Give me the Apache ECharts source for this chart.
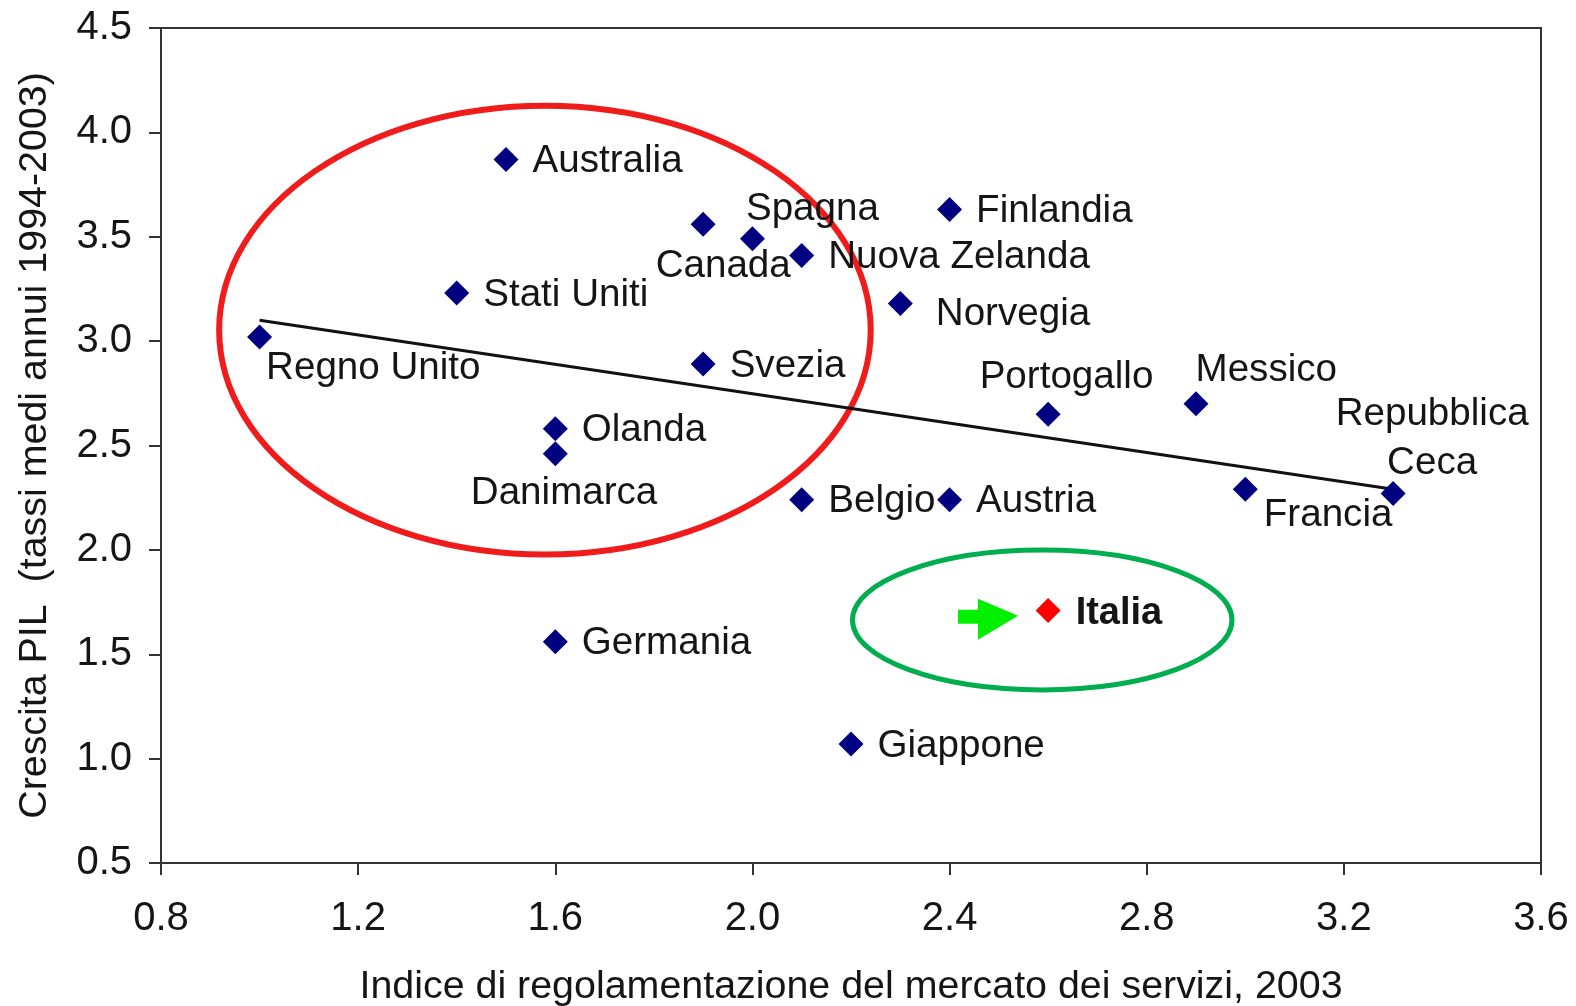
<!DOCTYPE html>
<html><head><meta charset="utf-8">
<style>html,body{margin:0;padding:0;background:#fff}#c{width:1576px;height:1006px}</style>
<script src="https://cdn.jsdelivr.net/npm/echarts@6/dist/echarts.min.js"></script></head>
<body><div id="c"></div>
<script>
const countries = ['Australia','Spagna','Canada','Finlandia','Nuova Zelanda','Stati Uniti','Norvegia','Regno Unito','Svezia','Olanda','Danimarca','Portogallo','Messico','Repubblica\nCeca','Francia','Belgio','Austria','Germania','Giappone'];
const serviceIndex = [1.5,2.0,1.9,2.4,2.1,1.4,2.3,1.0,1.9,1.6,1.6,2.6,2.9,3.3,3.0,2.1,2.4,1.6,2.2];
const gdpGrowth = [3.87,3.49,3.56,3.63,3.41,3.23,3.18,3.02,2.89,2.58,2.46,2.65,2.70,2.27,2.29,2.24,2.24,1.56,1.07];
const italy = ['Italia',2.6,1.71];
const trendX = [1.0,3.3];
const trendY = [3.10,2.29];
const redEllipse = [1.579,3.053,0.661,1.075];
const greenEllipse = [2.588,1.664,0.385,0.335];
const arrowAt = [2.478,1.668];
const xTickLabels = ['0.8','1.2','1.6','2.0','2.4','2.8','3.2','3.6'];
const yTickLabels = ['0.5','1.0','1.5','2.0','2.5','3.0','3.5','4.0','4.5'];

// label placement (pixels relative to the default right-hand position)
const labelOffsets = {
  'Spagna':[-33,-29],'Canada':[-74,42],'Norvegia':[9,11],'Regno Unito':[-20,31],
  'Danimarca':[-111,40],'Portogallo':[-95,-37],'Messico':[-27,-33],'Francia':[-8,26]
};
const FONT='"Liberation Sans",Arial,sans-serif', FS=40, TXT='#151515';

const pts = countries.map((n,i)=>{
  const isCeca = n.startsWith('Repubblica');
  return {name:n,value:[serviceIndex[i],gdpGrowth[i]],
    label: isCeca ? {position:'top',align:'center',offset:[39,21],lineHeight:49}
                  : {offset:labelOffsets[n]||[0,2]}};
});
function ellipseSeries(e,color,w){
  return {type:'custom',data:[e],clip:false,silent:true,z:1,encode:{x:0,y:1},
    renderItem(p,api){
      const c=api.coord([api.value(0),api.value(1)]);
      const s=api.size([api.value(2),api.value(3)]);
      return {type:'ellipse',shape:{cx:c[0],cy:c[1],rx:s[0],ry:s[1]},
        style:{fill:'none',stroke:color,lineWidth:w}};
    }};
}
const chart=echarts.init(document.getElementById('c'),null,{renderer:'canvas'});
const axisCommon={
  axisLine:{show:true,lineStyle:{color:'#333',width:2}},
  axisTick:{show:true,length:12,lineStyle:{color:'#333',width:2}},
  splitLine:{show:false},
  nameLocation:'middle',
  nameTextStyle:{fontFamily:FONT,fontSize:39.4,color:TXT},
};
const labelBase={show:true,position:'right',distance:14,fontFamily:FONT,fontSize:38.6,color:TXT,opacity:1,formatter:'{b}'};
chart.setOption({
  animation:false,
  backgroundColor:'#fff',
  grid:{left:161,top:28,width:1380,height:835,show:true,borderColor:'#333',borderWidth:2,backgroundColor:'transparent',outerBoundsMode:'none'},
  xAxis:Object.assign({type:'value',min:0.8,max:3.6,interval:0.4,name:'Indice di regolamentazione del mercato dei servizi, 2003',nameGap:105,
    axisLabel:{margin:36,fontFamily:FONT,fontSize:FS,color:TXT,formatter:(v)=>xTickLabels[Math.round((v-0.8)/0.4)]}},axisCommon),
  yAxis:Object.assign({type:'value',min:0.5,max:4.5,interval:0.5,name:'Crescita PIL  (tassi medi annui 1994-2003)',nameGap:106,
    axisLabel:{margin:29,fontFamily:FONT,fontSize:FS,color:TXT,formatter:(v)=>yTickLabels[Math.round((v-0.5)/0.5)]}},axisCommon),
  series:[
    ellipseSeries(redEllipse,'#f01c1c',6),
    ellipseSeries(greenEllipse,'#00ad4f',5),
    {type:'line',data:trendX.map((x,i)=>[x,trendY[i]]),symbol:'none',z:2,silent:true,
      lineStyle:{color:'#111',width:3}},
    {type:'scatter',data:pts,symbol:'diamond',symbolSize:25,z:3,
      itemStyle:{color:'#000080',opacity:1},
      label:labelBase},
    {type:'scatter',data:[{name:italy[0],value:[italy[1],italy[2]]}],symbol:'diamond',symbolSize:25,z:3,
      itemStyle:{color:'#ff0000',opacity:1},
      label:Object.assign({},labelBase,{fontWeight:'bold',fontSize:38,distance:15,offset:[0,3]})},
    {type:'scatter',data:[arrowAt],silent:true,z:3,
      symbol:'path://M0 11 L20 11 L20 0 L60 17 L20 41 L20 25 L0 25 Z',symbolSize:[60,41],symbolKeepAspect:false,
      itemStyle:{color:'#00f000',opacity:1}}
  ]
});
</script></body></html>
